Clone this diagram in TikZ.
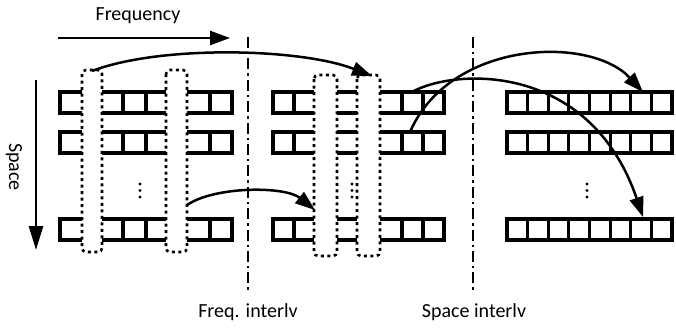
\documentclass[tikz,border=0pt]{standalone}
\usepackage{fontspec}
\setmainfont{Carlito}
\usetikzlibrary{arrows.meta}
\begin{document}
\begin{tikzpicture}[x=1pt,y=-1pt,
  cellline/.style={line width=3.2pt, line join=miter},
  dotbox/.style={line width=2.6pt, dash pattern=on 3pt off 3.5pt, rounded corners=4pt},
  dashdot/.style={line width=2.4pt, dash pattern=on 11pt off 4pt on 2.4pt off 4pt},
  arcarrow/.style={line width=2.5pt, -{Triangle[length=20pt,width=14pt]}},
  axisarrow/.style={line width=2.7pt},
  lbl/.style={font=\fontsize{20}{24}\selectfont, inner sep=0pt},
  vdot/.style={circle, fill, inner sep=0pt, minimum size=3.2pt}]
\useasboundingbox (0,0) rectangle (676,330);

% cell rows
\foreach \t in {92,132,219} {
  % left group
  \draw[cellline] (82,\t) -- (60,\t) -- (60,{\t+21}) -- (82,{\t+21});
  \draw[cellline] (102,\t) -- (166,\t) (102,{\t+21}) -- (166,{\t+21})
                  (123,\t) -- (123,{\t+21}) (146,\t) -- (146,{\t+21});
  \draw[cellline] (187,\t) -- (232,\t) -- (232,{\t+21}) -- (187,{\t+21})
                  (210,\t) -- (210,{\t+21});
  % middle group
  \draw[cellline] (314,\t) -- (273,\t) -- (273,{\t+21}) -- (314,{\t+21})
                  (294,\t) -- (294,{\t+21});
  \draw[cellline] (337,\t) -- (357,\t) (337,{\t+21}) -- (357,{\t+21});
  \draw[cellline] (380,\t) -- (444,\t) -- (444,{\t+21}) -- (380,{\t+21})
                  (402,\t) -- (402,{\t+21}) (423,\t) -- (423,{\t+21});
  % right group
  \draw[cellline] (507,\t) rectangle (672,{\t+21});
  \foreach \i in {1,...,7} {
    \draw[cellline] ({507+\i*20.625},\t) -- ({507+\i*20.625},{\t+21});
  }
}

% dotted extraction boxes
\draw[dotbox] (82,70) rectangle (102,252);
\draw[dotbox] (166,70) rectangle (187,252);
\draw[dotbox] (314,75) rectangle (337,256);
\draw[dotbox] (357,75) rectangle (380,256);

% vertical ellipses
\foreach \x in {140,352,587} {
  \node[vdot] at (\x,184) {};
  \node[vdot] at (\x,190.5) {};
  \node[vdot] at (\x,197) {};
}

% interleaver boundaries
\coordinate (fiTop) at (248,37);
\coordinate (fiBot) at (248,291);
\coordinate (siTop) at (473,37);
\coordinate (siBot) at (473,292);
\draw[dashdot] (fiTop) -- (fiBot);
\draw[dashdot] (siTop) -- (siBot);

% axis arrows
\coordinate (fA) at (58,38);
\coordinate (fB) at (230,38);
\coordinate (sA) at (36,80);
\coordinate (sB) at (36,250);
\draw[axisarrow, -{Triangle[length=20pt,width=14pt]}] (fA) -- (fB);
\draw[axisarrow, -{Triangle[length=24pt,width=14pt]}] (sA) -- (sB);

% labels
\node[lbl] (freq) at (138,16) {Frequency};
\node[lbl, rotate=-90] (space) at (14,167) {Space};
\node[lbl] (fil) at (248,312) {Freq. interlv};
\node[lbl] (sil) at (474,312) {Space interlv};

% frequency interleaving arcs
\coordinate (b1) at (92,71);
\coordinate (bB) at (372,76);
\coordinate (b2) at (187,205);
\coordinate (bA) at (315,210);
\draw[arcarrow] (b1) .. controls (160,45) and (300,48) .. (bB);
\draw[arcarrow] (b2) .. controls (215,186) and (285,186) .. (bA);

% space interleaving arcs
\coordinate (r2) at (410,132);
\coordinate (t1) at (643,92);
\coordinate (r1) at (412,92);
\coordinate (t3) at (643,217);
\draw[arcarrow] (r2) .. controls (450,40) and (590,35) .. (t1);
\draw[arcarrow] (r1) .. controls (455,68) and (590,62) .. (t3);
\end{tikzpicture}
\end{document}
